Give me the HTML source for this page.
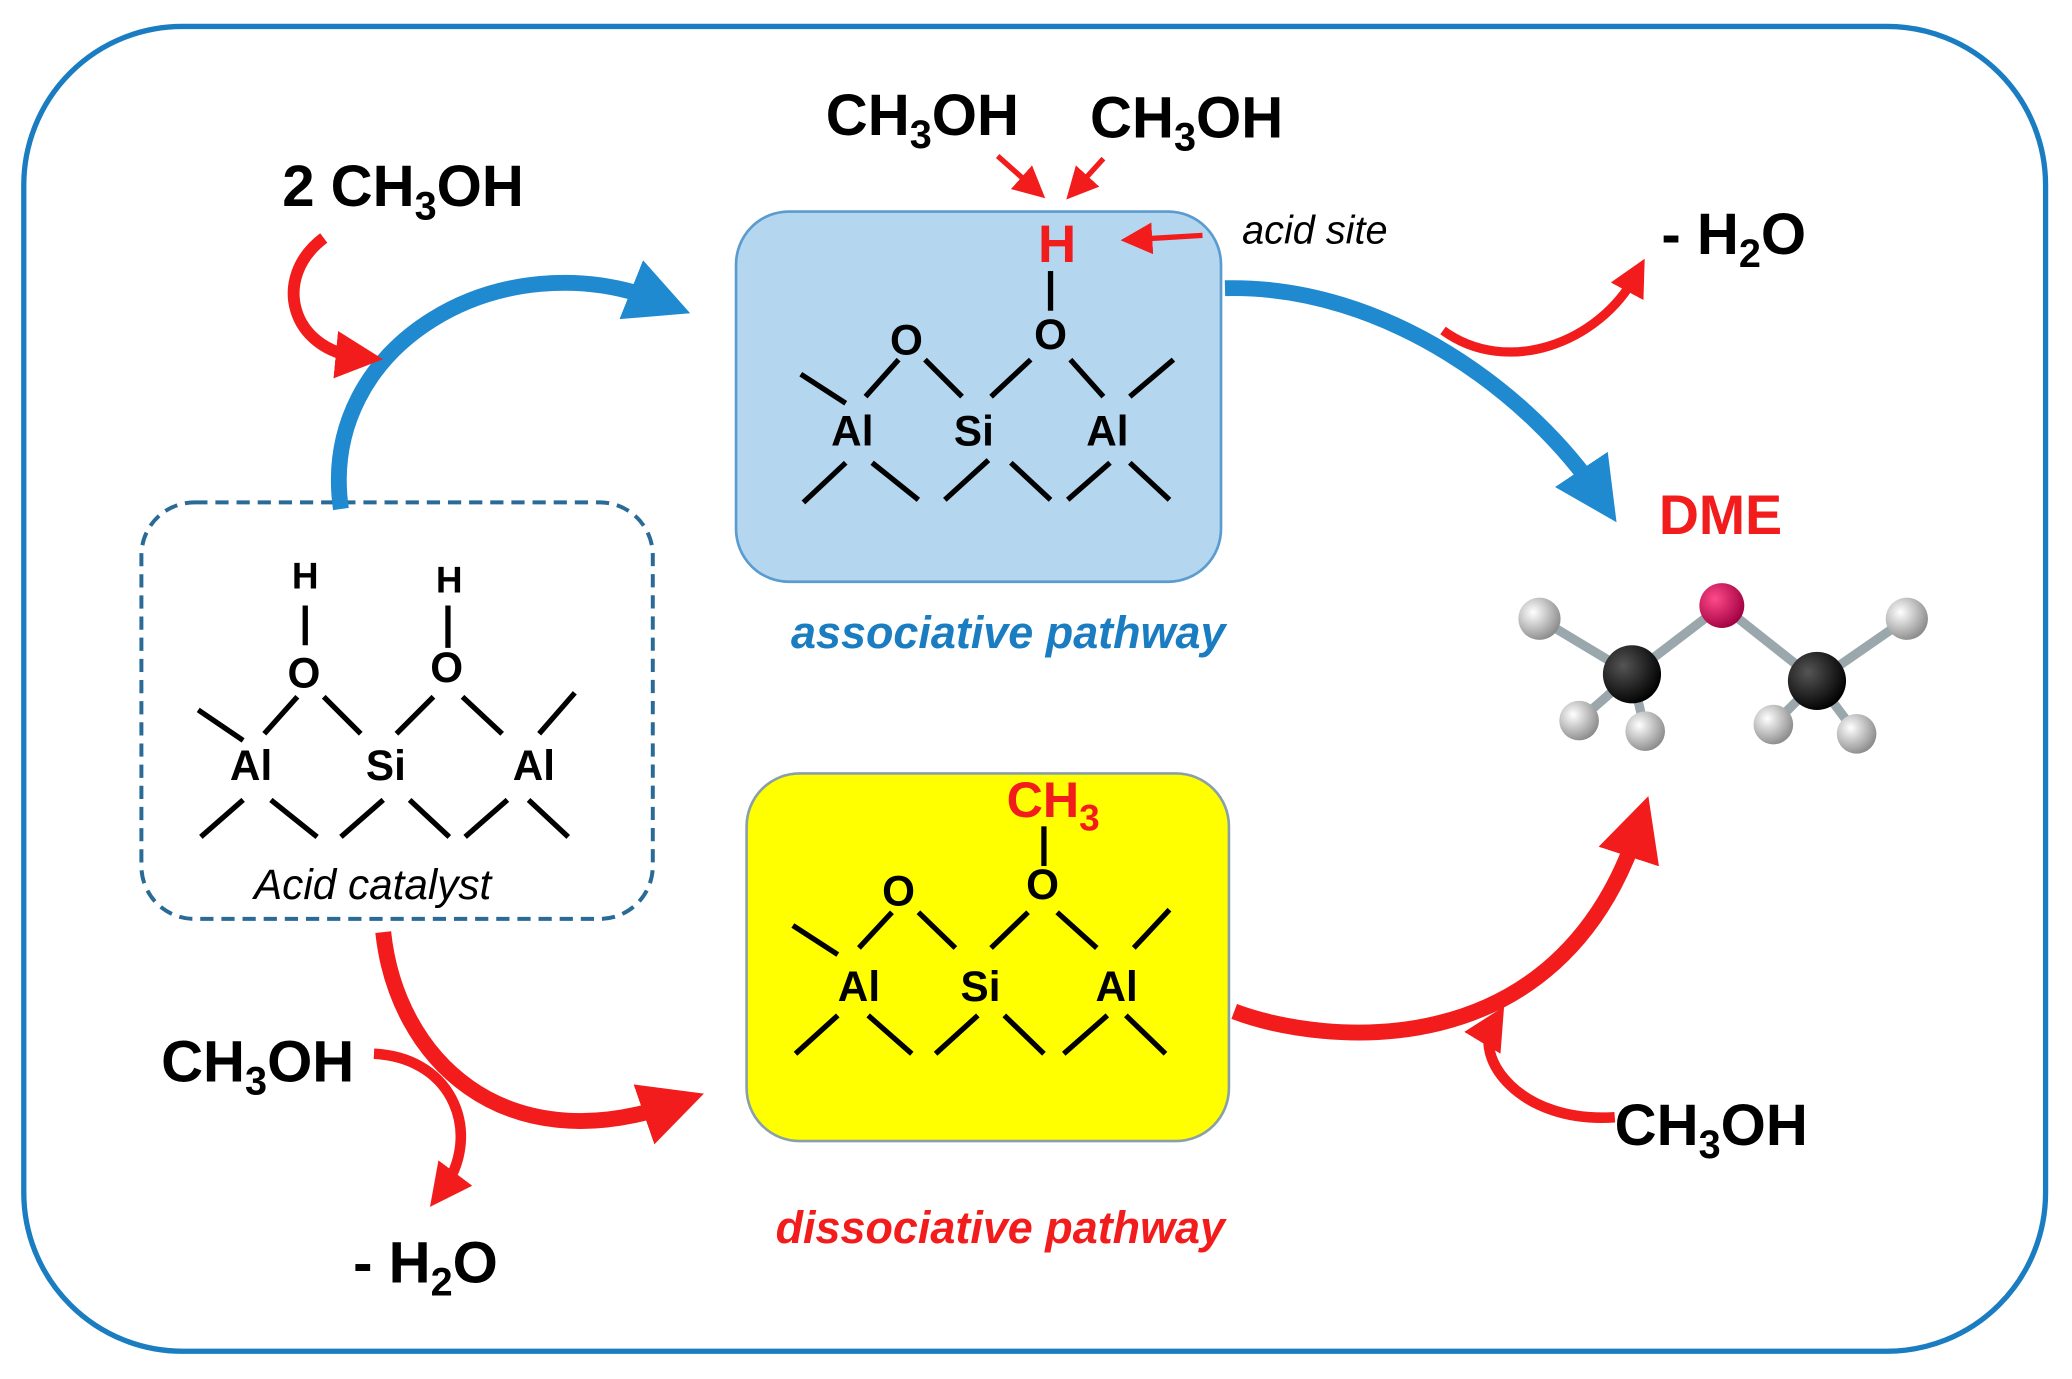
<!DOCTYPE html>
<html><head><meta charset="utf-8"><style>
html,body{margin:0;padding:0;background:#fff;}
svg{display:block;}
text{font-family:"Liberation Sans",sans-serif;font-weight:bold;}
</style></head><body>
<svg width="2072" height="1379" viewBox="0 0 1568 1043" preserveAspectRatio="none" xmlns="http://www.w3.org/2000/svg">
<defs>
<marker id="rh" markerWidth="6" markerHeight="6" refX="3" refY="3" orient="auto" markerUnits="strokeWidth"><path d="M0,0 L6,3 L0,6 Z" fill="#f21c1c"/></marker>
<marker id="rhs" markerWidth="4" markerHeight="4" refX="2" refY="2" orient="auto" markerUnits="strokeWidth"><path d="M0,0 L4,2 L0,4 Z" fill="#f21c1c"/></marker>
<marker id="bh" markerWidth="4" markerHeight="4" refX="2" refY="2" orient="auto" markerUnits="strokeWidth"><path d="M0,0 L4,2 L0,4 Z" fill="#1f8ad0"/></marker>
<radialGradient id="gH" cx="0.35" cy="0.35" r="0.7"><stop offset="0" stop-color="#fff"/><stop offset="1" stop-color="#8a8a8a"/></radialGradient>
<radialGradient id="gC" cx="0.35" cy="0.35" r="0.7"><stop offset="0" stop-color="#555"/><stop offset="1" stop-color="#000"/></radialGradient>
<radialGradient id="gO" cx="0.35" cy="0.35" r="0.7"><stop offset="0" stop-color="#ff4a8a"/><stop offset="1" stop-color="#a00040"/></radialGradient>
</defs>
<rect x="18" y="20" width="1530" height="1002" rx="120" fill="#fff" stroke="#1a7cc1" stroke-width="4"/>
<rect x="557" y="160" width="367" height="280" rx="40" fill="#b4d6ee" stroke="#5a9bd0" stroke-width="2"/>
<rect x="565" y="585" width="365" height="278" rx="40" fill="#ffff00" stroke="#8aa0a8" stroke-width="2"/>
<rect x="107" y="380" width="387" height="315" rx="40" fill="none" stroke="#2a6a96" stroke-width="3" stroke-dasharray="10,6"/>

<g stroke="#000" stroke-width="4" fill="none">
<path d="M606,283L640,305M655,300L680,272M700,272L728,300M750,300L780,272M810,272L835,300M855,300L888,272"/>
<path d="M608,380L640,350M660,350L695,378M715,378L748,348M765,350L795,378M808,378L840,350M855,350L885,378"/>
<path d="M795,205L795,235"/>
</g>
<g font-size="32" text-anchor="middle">
<text x="686" y="268">O</text><text x="795" y="264">O</text>
<text x="645" y="337">Al</text><text x="737" y="337">Si</text><text x="838" y="337">Al</text>
</g>
<text x="800" y="198" font-size="40" fill="#f21c1c" text-anchor="middle">H</text>

<g stroke="#000" stroke-width="4" fill="none">
<path d="M150,537L184,560M200,555L225,527M245,527L273,555M300,555L328,527M350,527L380,555M408,555L435,524"/>
<path d="M152,633L184,605M205,605L240,633M258,633L290,605M310,605L340,633M352,633L384,605M400,605L430,633"/>
<path d="M231,458L231,488M339,458L339,490"/>
</g>
<g font-size="32" text-anchor="middle">
<text x="231" y="445" font-size="28">H</text><text x="340" y="448" font-size="28">H</text>
<text x="230" y="520">O</text><text x="338" y="516">O</text>
<text x="190" y="590">Al</text><text x="292" y="590">Si</text><text x="404" y="590">Al</text>
</g>
<text x="282" y="680" font-size="32" font-style="italic" style="font-weight:normal" text-anchor="middle">Acid catalyst</text>

<g stroke="#000" stroke-width="4" fill="none">
<path d="M600,700L634,722M650,717L675,690M695,690L723,717M750,717L778,690M800,690L830,717M858,717L885,688"/>
<path d="M602,797L634,768M657,768L690,797M708,797L740,768M760,768L790,797M805,797L838,768M852,768L882,797"/>
<path d="M790,625L790,655"/>
</g>
<g font-size="32" text-anchor="middle">
<text x="680" y="685">O</text><text x="789" y="680">O</text>
<text x="650" y="757">Al</text><text x="742" y="757">Si</text><text x="845" y="757">Al</text>
</g>
<text x="797" y="618" font-size="38" fill="#f21c1c" text-anchor="middle">CH<tspan font-size="28" dy="10">3</tspan></text>

<g font-size="44" text-anchor="middle">
<text x="698" y="102">CH<tspan font-size="30" dy="10">3</tspan><tspan dy="-10">OH</tspan></text>
<text x="898" y="104">CH<tspan font-size="30" dy="10">3</tspan><tspan dy="-10">OH</tspan></text>
<text x="305" y="156">2 CH<tspan font-size="30" dy="10">3</tspan><tspan dy="-10">OH</tspan></text>
<text x="1312" y="192">- H<tspan font-size="30" dy="10">2</tspan><tspan dy="-10">O</tspan></text>
<text x="195" y="818">CH<tspan font-size="30" dy="10">3</tspan><tspan dy="-10">OH</tspan></text>
<text x="322" y="970">- H<tspan font-size="30" dy="10">2</tspan><tspan dy="-10">O</tspan></text>
<text x="1295" y="866">CH<tspan font-size="30" dy="10">3</tspan><tspan dy="-10">OH</tspan></text>
</g>
<text x="995" y="184" font-size="30" font-style="italic" style="font-weight:normal" text-anchor="middle">acid site</text>
<text x="1302" y="404" font-size="42" fill="#f21c1c" text-anchor="middle">DME</text>
<text x="763" y="490" font-size="34" font-style="italic" fill="#1a7cc1" text-anchor="middle">associative pathway</text>
<text x="757" y="940" font-size="34" font-style="italic" fill="#f21c1c" text-anchor="middle">dissociative pathway</text>

<g stroke="#f21c1c" stroke-width="4" fill="none">
<path d="M755,118L782,142" marker-end="url(#rh)"/>
<path d="M835,120L815,142" marker-end="url(#rh)"/>
<path d="M910,178L860,181" marker-end="url(#rh)"/>
</g>

<g stroke="#1f8ad0" stroke-width="12" fill="none">
<path d="M258,385C240,260 380,180 500,228" marker-end="url(#bh)"/>
<path d="M927,218C1050,215 1160,300 1210,375" marker-end="url(#bh)"/>
</g>

<g stroke="#f21c1c" fill="none">
<path d="M245,180C205,210 220,265 272,270" stroke-width="9" marker-end="url(#rhs)"/>
<path d="M1092,250C1140,285 1210,260 1238,208" stroke-width="7" marker-end="url(#rhs)"/>
<path d="M290,705C300,800 380,880 510,835" stroke-width="12" marker-end="url(#rhs)"/>
<path d="M283,797C345,800 365,860 335,900" stroke-width="8" marker-end="url(#rhs)"/>
<path d="M934,765C1000,790 1180,810 1240,625" stroke-width="12" marker-end="url(#rhs)"/>
<path d="M1222,845C1150,850 1115,800 1130,775" stroke-width="8" marker-end="url(#rhs)"/>
</g>

<g stroke="#9aa8ad" stroke-width="7" stroke-linecap="round">
<line x1="1165" y1="468" x2="1235" y2="510"/>
<line x1="1235" y1="510" x2="1303" y2="458"/>
<line x1="1303" y1="458" x2="1375" y2="515"/>
<line x1="1375" y1="515" x2="1443" y2="468"/>
<line x1="1235" y1="510" x2="1195" y2="545"/>
<line x1="1235" y1="510" x2="1245" y2="553"/>
<line x1="1375" y1="515" x2="1342" y2="548"/>
<line x1="1375" y1="515" x2="1405" y2="555"/>
</g>
<circle cx="1165" cy="468" r="16" fill="url(#gH)"/>
<circle cx="1443" cy="468" r="16" fill="url(#gH)"/>
<circle cx="1303" cy="458" r="17" fill="url(#gO)"/>
<circle cx="1235" cy="510" r="22" fill="url(#gC)"/>
<circle cx="1375" cy="515" r="22" fill="url(#gC)"/>
<circle cx="1195" cy="545" r="15" fill="url(#gH)"/>
<circle cx="1245" cy="553" r="15" fill="url(#gH)"/>
<circle cx="1342" cy="548" r="15" fill="url(#gH)"/>
<circle cx="1405" cy="555" r="15" fill="url(#gH)"/>
</svg>
</body></html>
